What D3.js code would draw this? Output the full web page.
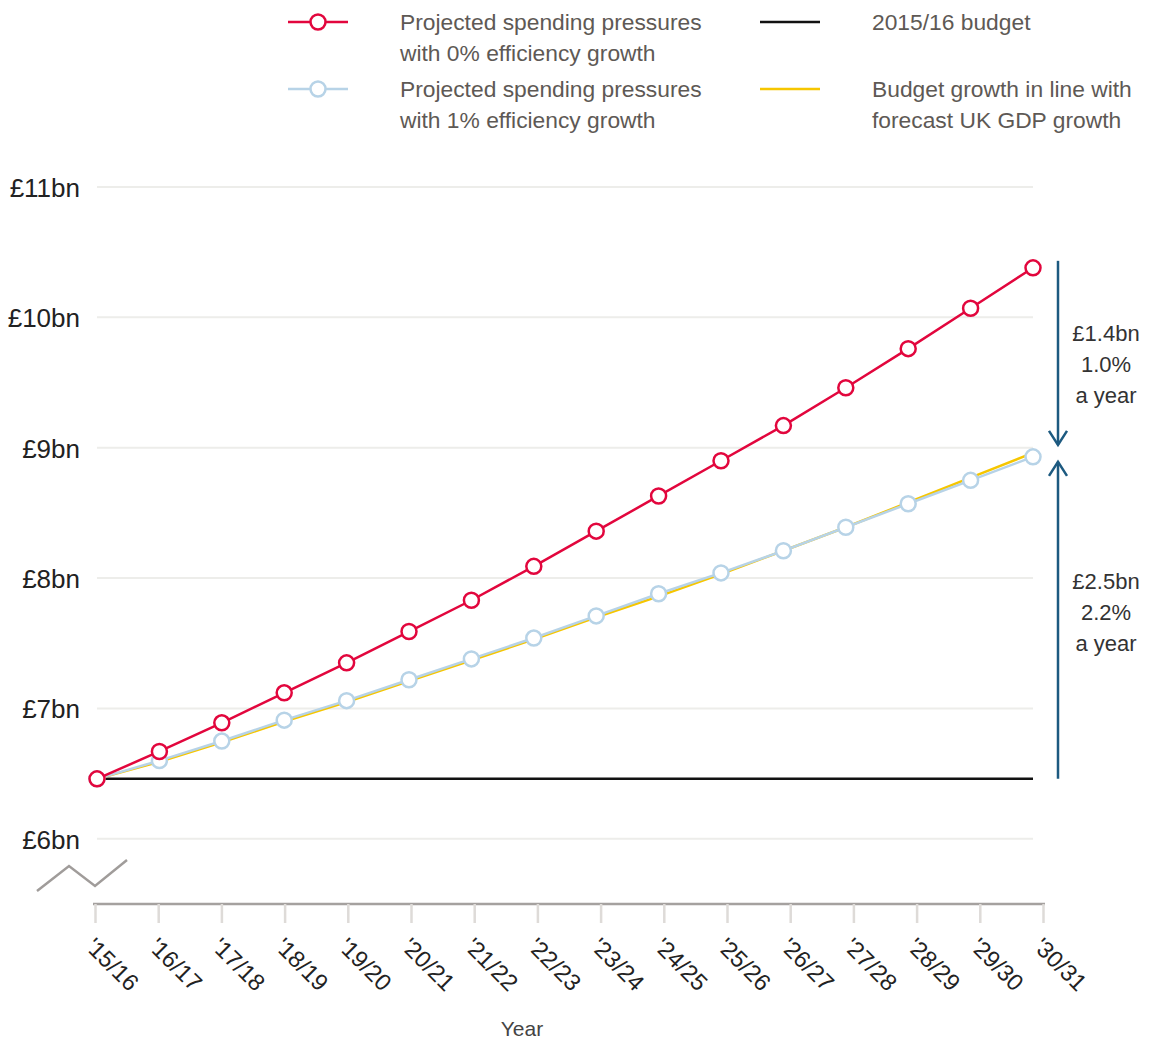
<!DOCTYPE html>
<html>
<head>
<meta charset="utf-8">
<script src="https://cdn.jsdelivr.net/npm/d3@7"></script>
<style>
  body { margin: 0; background: #fff; }
  text { font-family: "Liberation Sans", Arial, sans-serif; }
</style>
</head>
<body>
<div id="chart"></div>
<script>
var years = ["'15/16", "'16/17", "'17/18", "'18/19", "'19/20", "'20/21", "'21/22", "'22/23",
    "'23/24", "'24/25", "'25/26", "'26/27", "'27/28", "'28/29", "'29/30", "'30/31"];
var pressure0 = [6.46, 6.67, 6.89, 7.12, 7.35, 7.59, 7.83, 8.09, 8.36, 8.63, 8.90, 9.17, 9.46, 9.76, 10.07, 10.38];
var pressure1 = [6.46, 6.60, 6.75, 6.91, 7.06, 7.22, 7.38, 7.54, 7.71, 7.88, 8.04, 8.21, 8.39, 8.57, 8.75, 8.93];
var gdpGrowth = [6.46, 6.59, 6.74, 6.90, 7.05, 7.21, 7.37, 7.53, 7.70, 7.86, 8.03, 8.21, 8.39, 8.58, 8.77, 8.96];
var budget = 6.46;
var yTicks = [6, 7, 8, 9, 10, 11];
var annotTop = ["£1.4bn", "1.0%", "a year"];
var annotBottom = ["£2.5bn", "2.2%", "a year"];

var width = 1150, height = 1043;

var svg = d3.select('#chart')
    .append('svg')
    .attr('width', width)
    .attr('height', height)
    .style('display', 'block');

var red = '#e2063d', blue = '#b7d3e7', yellow = '#f6c600', navy = '#1d5a80';

// points sit a little inside the tick positions, as in the original
var x_scale = d3.scalePoint().domain(years).range([97, 1033]);
var x_ticks = d3.scalePoint().domain(years).range([95, 1043]);
var y_scale = d3.scaleLinear().domain([5.5, 11]).range([904, 187]);

// grid
svg.append('g')
    .selectAll('line')
    .data(yTicks)
    .enter()
    .append('line')
    .attr('x1', 97)
    .attr('x2', 1033)
    .attr('y1', function (d) { return y_scale(d); })
    .attr('y2', function (d) { return y_scale(d); })
    .attr('stroke', '#ededea')
    .attr('stroke-width', 2);

// y labels
var y_axis = d3.axisLeft(y_scale)
    .tickValues(yTicks)
    .tickSize(0)
    .tickPadding(0)
    .tickFormat(function (d) { return '£' + d + 'bn'; });

var yAxis = svg.append('g')
    .attr('transform', 'translate(80,0)')
    .call(y_axis);
yAxis.select('.domain').remove();
yAxis.selectAll('text')
    .attr('font-size', 26)
    .attr('fill', '#222')
    .attr('dy', '0.36em')
    .style('font-family', '"Liberation Sans", Arial, sans-serif');

// axis break
svg.append('polyline')
    .attr('points', '37,891 69,866 95,886 127,860')
    .attr('fill', 'none')
    .attr('stroke', '#a09c9a')
    .attr('stroke-width', 2.5);

// x axis
var x_axis = d3.axisBottom(x_ticks).tickSize(19).tickSizeOuter(0).tickFormat('');
var xAxis = svg.append('g')
    .attr('transform', 'translate(0,904)')
    .call(x_axis);
xAxis.select('.domain')
    .attr('stroke', '#a5a19f')
    .attr('stroke-width', 2.5)
    .attr('d', 'M93,0H1045');
xAxis.selectAll('.tick line')
    .attr('stroke', '#dedbd8')
    .attr('stroke-width', 2.5);

svg.append('g')
    .selectAll('text')
    .data(years)
    .enter()
    .append('text')
    .attr('transform', function (d) {
        return 'translate(' + (x_ticks(d) - 5) + ',942) rotate(45)';
    })
    .attr('font-size', 23.5)
    .attr('fill', '#222')
    .attr('dy', '0.35em')
    .text(function (d) { return d; });

svg.append('text')
    .attr('x', 522)
    .attr('y', 1036)
    .attr('text-anchor', 'middle')
    .attr('font-size', 21)
    .attr('fill', '#444')
    .text('Year');

// lines
var line = d3.line()
    .x(function (d, i) { return x_scale(years[i]); })
    .y(function (d) { return y_scale(d); });

svg.append('line')
    .attr('x1', x_scale(years[0]))
    .attr('x2', x_scale(years[years.length - 1]))
    .attr('y1', y_scale(budget))
    .attr('y2', y_scale(budget))
    .attr('stroke', '#111')
    .attr('stroke-width', 2.5);

svg.append('path')
    .datum(gdpGrowth)
    .attr('d', line)
    .attr('fill', 'none')
    .attr('stroke', yellow)
    .attr('stroke-width', 2.5);

svg.append('path')
    .datum(pressure1)
    .attr('d', line)
    .attr('fill', 'none')
    .attr('stroke', blue)
    .attr('stroke-width', 2.5);

svg.append('g')
    .selectAll('circle')
    .data(pressure1)
    .enter()
    .append('circle')
    .attr('cx', function (d, i) { return x_scale(years[i]); })
    .attr('cy', function (d) { return y_scale(d); })
    .attr('r', 7.5)
    .attr('fill', '#fff')
    .attr('stroke', blue)
    .attr('stroke-width', 2.5);

svg.append('path')
    .datum(pressure0)
    .attr('d', line)
    .attr('fill', 'none')
    .attr('stroke', red)
    .attr('stroke-width', 2.5);

svg.append('g')
    .selectAll('circle')
    .data(pressure0)
    .enter()
    .append('circle')
    .attr('cx', function (d, i) { return x_scale(years[i]); })
    .attr('cy', function (d) { return y_scale(d); })
    .attr('r', 7.5)
    .attr('fill', '#fff')
    .attr('stroke', red)
    .attr('stroke-width', 2.5);

// arrows on the right
var last = years.length - 1;
var ax = 1058;
var yTop = y_scale(pressure0[last]) - 7;
var yMid = y_scale(pressure1[last]);
var yBase = y_scale(budget);

svg.append('line')
    .attr('x1', ax).attr('x2', ax)
    .attr('y1', yTop).attr('y2', yMid - 12)
    .attr('stroke', navy).attr('stroke-width', 2.5);
svg.append('polyline')
    .attr('points', (ax - 9) + ',' + (yMid - 26) + ' ' + ax + ',' + (yMid - 12) + ' ' + (ax + 9) + ',' + (yMid - 26))
    .attr('fill', 'none').attr('stroke', navy).attr('stroke-width', 2.5);

svg.append('line')
    .attr('x1', ax).attr('x2', ax)
    .attr('y1', yBase).attr('y2', yMid + 5)
    .attr('stroke', navy).attr('stroke-width', 2.5);
svg.append('polyline')
    .attr('points', (ax - 9) + ',' + (yMid + 19) + ' ' + ax + ',' + (yMid + 5) + ' ' + (ax + 9) + ',' + (yMid + 19))
    .attr('fill', 'none').attr('stroke', navy).attr('stroke-width', 2.5);

function annot(lines, y0) {
    svg.append('g')
        .selectAll('text')
        .data(lines)
        .enter()
        .append('text')
        .attr('x', 1106)
        .attr('y', function (d, i) { return y0 + i * 31; })
        .attr('text-anchor', 'middle')
        .attr('font-size', 22)
        .attr('fill', '#333')
        .text(function (d) { return d; });
}
annot(annotTop, 341);
annot(annotBottom, 589);

// legend
var legend = [
    { label: ['Projected spending pressures', 'with 0% efficiency growth'], color: red, dot: true, x: 288, y: 22 },
    { label: ['Projected spending pressures', 'with 1% efficiency growth'], color: blue, dot: true, x: 288, y: 89 },
    { label: ['2015/16 budget'], color: '#111', dot: false, x: 760, y: 22 },
    { label: ['Budget growth in line with', 'forecast UK GDP growth'], color: yellow, dot: false, x: 760, y: 89 }
];

var lg = svg.append('g')
    .selectAll('g')
    .data(legend)
    .enter()
    .append('g');

lg.append('line')
    .attr('x1', function (d) { return d.x; })
    .attr('x2', function (d) { return d.x + 60; })
    .attr('y1', function (d) { return d.y; })
    .attr('y2', function (d) { return d.y; })
    .attr('stroke', function (d) { return d.color; })
    .attr('stroke-width', 2.5);

lg.filter(function (d) { return d.dot; })
    .append('circle')
    .attr('cx', function (d) { return d.x + 30; })
    .attr('cy', function (d) { return d.y; })
    .attr('r', 7.5)
    .attr('fill', '#fff')
    .attr('stroke', function (d) { return d.color; })
    .attr('stroke-width', 2.5);

lg.each(function (d) {
    d3.select(this).selectAll('text')
        .data(d.label)
        .enter()
        .append('text')
        .attr('x', d.x + 112)
        .attr('y', function (t, i) { return d.y + 8 + i * 31; })
        .attr('font-size', 22.8)
        .attr('fill', '#5e5955')
        .text(function (t) { return t; });
});
</script>
</body>
</html>
